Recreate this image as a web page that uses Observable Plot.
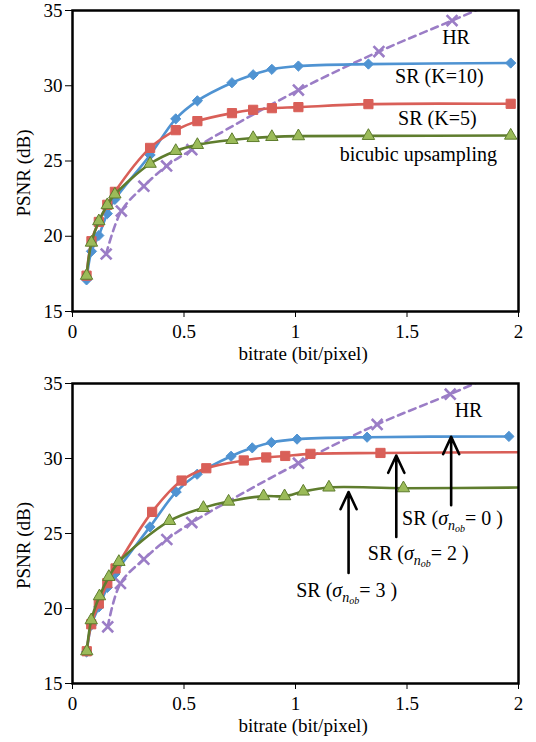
<!DOCTYPE html>
<html>
<head>
<meta charset="utf-8">
<script src="https://cdn.jsdelivr.net/npm/d3@7"></script>
<script src="https://cdn.jsdelivr.net/npm/@observablehq/plot@0.6"></script>
<style>
  body { margin: 0; background: white; }
  svg { display: block; }
</style>
</head>
<body>
<div id="top"></div>
<div id="bottom"></div>
<script>
// ---------- axes ----------
const X_TICKS = [0, 0.5, 1, 1.5, 2];
const Y_TICKS = [15, 20, 25, 30, 35];
const X_LABEL = "bitrate (bit/pixel)";
const Y_LABEL = "PSNR (dB)";

// ---------- top chart ----------
const topX = [0.063, 0.085, 0.118, 0.156, 0.19, 0.348, 0.463, 0.56, 0.715, 0.81, 0.894, 1.013, 1.327, 1.965];
const topSR10 = [17.1, 19.0, 20.05, 21.5, 22.45, 25.4, 27.8, 29.0, 30.2, 30.73, 31.09, 31.31, 31.44, 31.51];
const topSR5 = [17.38, 19.67, 20.95, 22.09, 22.95, 25.87, 27.05, 27.65, 28.18, 28.4, 28.51, 28.58, 28.78, 28.8];
const topBicubic = [17.38, 19.58, 21.0, 22.07, 22.78, 24.82, 25.67, 26.07, 26.4, 26.53, 26.6, 26.65, 26.67, 26.69];
const topHRx = [0.151, 0.219, 0.32, 0.422, 0.535, 1.013, 1.374, 1.702, 2.0];
const topHR = [18.82, 21.67, 23.33, 24.67, 25.75, 29.71, 32.27, 34.33, 36.2];
const topLabels = ["HR", "SR (K=10)", "SR (K=5)", "bicubic upsampling"];
const topLabelX = [1.72, 1.645, 1.636, 1.551];
const topLabelY = [33.2, 30.6, 27.8, 25.4];

// ---------- bottom chart ----------
const botBlueX = [0.063, 0.085, 0.118, 0.156, 0.19, 0.347, 0.465, 0.559, 0.711, 0.806, 0.892, 1.007, 1.321, 1.957];
const botSigma0 = [17.1, 18.9, 20.1, 21.4, 22.3, 25.44, 27.77, 28.95, 30.15, 30.71, 31.07, 31.29, 31.42, 31.47];
const botRedX = [0.064, 0.084, 0.118, 0.156, 0.193, 0.357, 0.489, 0.6, 0.768, 0.869, 0.954, 1.067, 1.381, 2.05];
const botSigma2 = [17.15, 18.95, 20.33, 21.69, 22.67, 26.44, 28.53, 29.35, 29.87, 30.07, 30.17, 30.31, 30.37, 30.42];
const botGreenX = [0.064, 0.084, 0.121, 0.163, 0.208, 0.435, 0.587, 0.7, 0.857, 0.951, 1.035, 1.15, 1.484, 2.05];
const botSigma3 = [17.15, 19.22, 20.82, 22.11, 23.11, 25.84, 26.71, 27.13, 27.49, 27.49, 27.8, 28.07, 28.02, 28.07];
const botHRx = [0.158, 0.215, 0.32, 0.423, 0.535, 1.013, 1.366, 1.694, 2.0];
const botHR = [18.78, 21.67, 23.29, 24.6, 25.73, 29.69, 32.27, 34.29, 36.3];
const botSigmaLevels = ["0", "2", "3"];
const botLabelX = [1.478, 1.324, 1.003];
const botLabelY = [25.99, 23.67, 21.22];
const botArrowX = [1.698, 1.452, 1.238];
const botArrowFrom = [26.89, 24.77, 22.37];
const botArrowTo = [31.44, 30.2, 27.77];
const botHRLabelX = [1.776];
const botHRLabelY = [33.22];

// ---------- colours ----------
const BLUE = "#4f93d2", RED = "#d95f58", GREEN = "#5f7d2e", GREEN_FILL = "#9bbb59", PURPLE = "#9b7dc6";
const FONT = "Liberation Serif";

const pts = (xs, ys) => xs.map((x, i) => ({x, y: ys[i]}));

function series(data, color, symbol, opts = {}) {
  return [
    Plot.line(data, {x: "x", y: "y", stroke: color, strokeWidth: 2.6, curve: "catmull-rom", clip: true, strokeDasharray: opts.dash}),
    Plot.dot(data, {x: "x", y: "y", symbol, r: opts.r ?? 5,
      fill: opts.fill ?? (symbol === "times" ? "none" : color),
      stroke: opts.stroke ?? color, strokeWidth: opts.sw ?? 1, clip: true})
  ];
}

function base(marginTop, marginBottom, marks) {
  return Plot.plot({
    width: 536, height: 371,
    marginTop, marginBottom, marginLeft: 72, marginRight: 18,
    style: {fontFamily: FONT, fontSize: "19px", color: "black", background: "white", overflow: "visible"},
    x: {domain: [0, 2], ticks: X_TICKS, tickFormat: d => String(d), tickSize: 6, tickPadding: 7, label: null},
    y: {domain: [15, 35], ticks: Y_TICKS, tickFormat: d => String(d), tickSize: 7, tickPadding: 3, label: null},
    marks: [
      ...marks,
      Plot.text([X_LABEL], {x: 1.034, y: 12.2, text: d => d, fontSize: 19}),
      Plot.text([Y_LABEL], {x: -0.22, y: 24.2, text: d => d, rotate: -90, fontSize: 19}),
      Plot.frame({stroke: "black", strokeWidth: 2.5})
    ]
  });
}

// top
const topChart = base(10, 60, [
  ...series(pts(topHRx, topHR), PURPLE, "times", {dash: "7,5", sw: 2.6, r: 5}),
  ...series(pts(topX, topSR10), BLUE, "diamond2", {r: 4.6}),
  ...series(pts(topX, topSR5), RED, "square", {r: 5.2}),
  ...series(pts(topX, topBicubic), GREEN, "triangle", {fill: GREEN_FILL, stroke: GREEN, r: 4.6}),
  Plot.text(topLabels, {x: (d, i) => topLabelX[i], y: (d, i) => topLabelY[i], text: d => d, fontSize: 20})
]);
document.getElementById("top").append(topChart);

// bottom
const arrows = botArrowX.map((x, i) => ({x, y1: botArrowFrom[i], y2: botArrowTo[i]}));
const botChart = base(12, 59, [
  ...series(pts(botHRx, botHR), PURPLE, "times", {dash: "7,5", sw: 2.6, r: 5}),
  ...series(pts(botBlueX, botSigma0), BLUE, "diamond2", {r: 4.6}),
  ...series(pts(botRedX, botSigma2), RED, "square", {r: 5.2}),
  ...series(pts(botGreenX, botSigma3), GREEN, "triangle", {fill: GREEN_FILL, stroke: GREEN, r: 4.6}),
  Plot.arrow(arrows, {x1: "x", x2: "x", y1: "y1", y2: "y2", stroke: "black", strokeWidth: 2.6, headLength: 11, headAngle: 50}),
  Plot.text(["HR"], {x: botHRLabelX, y: botHRLabelY, text: d => d, fontSize: 20}),
  Plot.text(botSigmaLevels, {x: (d, i) => botLabelX[i], y: (d, i) => botLabelY[i], text: d => "SR (σ|" + d, textAnchor: "start", fontSize: 20})
]);

// render sigma with subscript n_ob
d3.select(botChart).selectAll("text").filter(function () { return this.textContent.startsWith("SR (σ|"); })
  .each(function () {
    const level = this.textContent.split("|")[1];
    const t = d3.select(this);
    t.text(null);
    t.append("tspan").text("SR (");
    t.append("tspan").attr("font-style", "italic").text("σ");
    t.append("tspan").attr("font-style", "italic").attr("font-size", "14px").attr("dy", "5px").text("n");
    t.append("tspan").attr("font-style", "italic").attr("font-size", "10px").attr("dy", "2px").text("ob");
    t.append("tspan").attr("dy", "-7px").text("= " + level + " )");
  });
document.getElementById("bottom").append(botChart);
</script>
</body>
</html>
